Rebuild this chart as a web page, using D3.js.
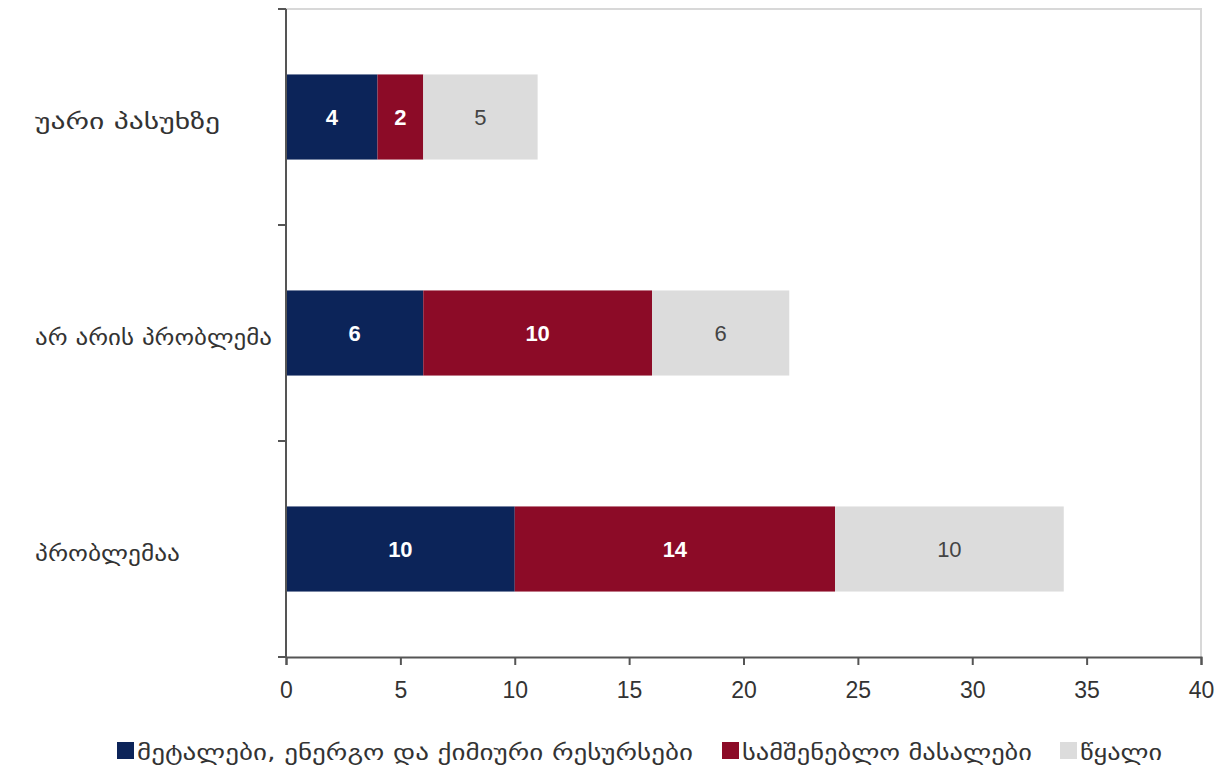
<!DOCTYPE html>
<html><head><meta charset="utf-8">
<script src="https://cdn.jsdelivr.net/npm/d3@7"></script>
<style>body{margin:0;background:#fff}svg{display:block}</style>
</head><body>
<svg id="c" width="1226" height="769"></svg>
<script>
const categories = ["უარი პასუხზე", "არ არის პრობლემა", "პრობლემაა"];
const seriesNames = ["მეტალები, ენერგო და ქიმიური რესურსები", "სამშენებლო მასალები", "წყალი"];
const metals = [4, 6, 10];
const construction = [2, 10, 14];
const water = [5, 6, 10];
const xTicks = [0, 5, 10, 15, 20, 25, 30, 35, 40];
const colors = ["#0c2459", "#8c0b27", "#dcdcdc"];
const labelColors = ["#ffffff", "#ffffff", "#444444"];

const svg = d3.select("#c");
const m = {l: 286, r: 1201, t: 9, b: 657};
const x = d3.scaleLinear().domain([0, 40]).range([m.l, m.r]);
const y = d3.scaleBand().domain(categories).range([m.t, m.b]).paddingInner(0.606).paddingOuter(0.303);

const rows = categories.map((c, i) => ({cat: c, v: [metals[i], construction[i], water[i]]}));
const stack = d3.stack().keys([0, 1, 2]).value((d, k) => d.v[k]);
const layers = stack(rows);

// plot border (top & right)
svg.append("path").attr("d", `M${m.l},${m.t}H${m.r}V${m.b}`).attr("fill", "none").attr("stroke", "#d8d8d8").attr("stroke-width", 2);

layers.forEach((layer, k) => {
  const g = svg.append("g");
  g.selectAll("rect").data(layer).join("rect")
    .attr("x", d => x(d[0])).attr("width", d => x(d[1]) - x(d[0]))
    .attr("y", d => y(d.data.cat)).attr("height", y.bandwidth())
    .attr("fill", colors[k]);
  g.selectAll("text").data(layer).join("text")
    .attr("x", d => (x(d[0]) + x(d[1])) / 2)
    .attr("y", d => y(d.data.cat) + y.bandwidth() / 2)
    .attr("dy", "0.36em").attr("text-anchor", "middle")
    .attr("font-family", "Liberation Sans, Arial, sans-serif")
    .attr("font-size", 22).attr("font-weight", k < 2 ? "bold" : "normal")
    .attr("fill", labelColors[k])
    .text(d => d[1] - d[0]);
});

// x axis
const xa = svg.append("g").attr("transform", `translate(0,${m.b})`)
  .call(d3.axisBottom(x).tickValues(xTicks).tickSize(8).tickPadding(17));
xa.select(".domain").attr("stroke", "#555").attr("stroke-width", 2);
xa.selectAll(".tick line").attr("stroke", "#555").attr("stroke-width", 2);
xa.selectAll("text").attr("font-family", "Liberation Sans, Arial, sans-serif").attr("font-size", 23).attr("fill", "#333");

// y axis line and boundary ticks
const yBounds = [0, 1, 2, 3].map(i => m.t + i * y.step());
svg.append("line").attr("x1", m.l).attr("x2", m.l).attr("y1", m.t).attr("y2", m.b).attr("stroke", "#555").attr("stroke-width", 2);
svg.selectAll(".ytick").data(yBounds).join("line")
  .attr("x1", m.l - 8).attr("x2", m.l).attr("y1", d => d).attr("y2", d => d)
  .attr("stroke", "#555").attr("stroke-width", 2);
const catWidths = [185, 237, 145];
svg.selectAll(".ylab").data(categories).join("text")
  .attr("x", 35).attr("y", d => y(d) + y.bandwidth() / 2 + 4).attr("dy", "0.36em")
  .attr("font-family", "DejaVu Sans, sans-serif").attr("font-size", 22).attr("fill", "#333")
  .attr("textLength", (d, i) => catWidths[i]).attr("lengthAdjust", "spacingAndGlyphs")
  .text(d => d);

// legend
const legX = [117, 722, 1060];
const legW = [556, 290, 82];
const lg = svg.append("g");
seriesNames.forEach((n, k) => {
  lg.append("rect").attr("x", legX[k]).attr("y", 742).attr("width", 17).attr("height", 17).attr("fill", colors[k]);
  lg.append("text").attr("x", legX[k] + 20).attr("y", 752).attr("dy", "0.36em")
    .attr("font-family", "DejaVu Sans, sans-serif").attr("font-size", 21).attr("fill", "#333")
    .attr("textLength", legW[k]).attr("lengthAdjust", "spacingAndGlyphs").text(n);
});
</script>
</body></html>
